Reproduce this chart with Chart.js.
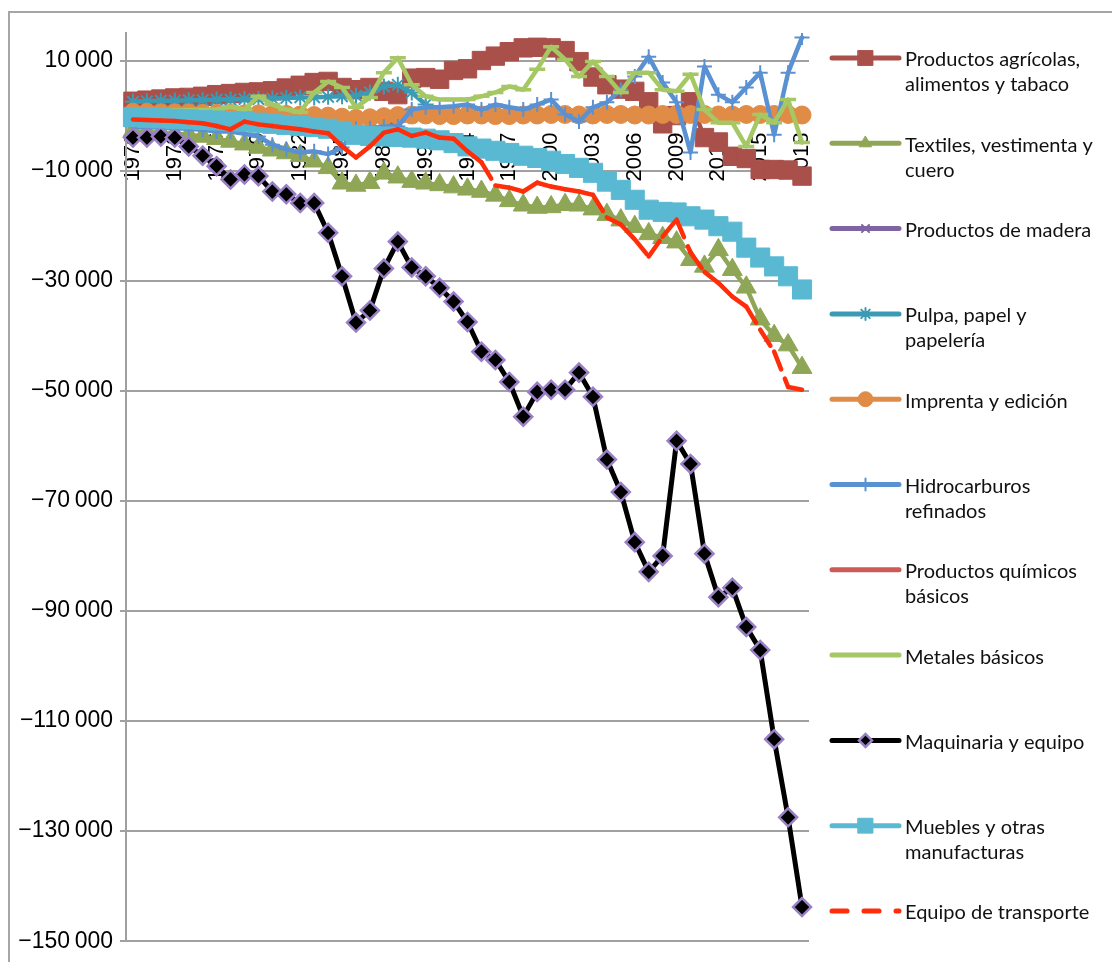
<!DOCTYPE html>
<html><head><meta charset="utf-8">
<script src="https://cdn.jsdelivr.net/npm/chart.js@4/dist/chart.umd.min.js"></script>
<style>html,body{margin:0;padding:0;background:#fff}#wrap{width:1112px;height:962px;position:relative}canvas{display:block}</style>
</head><body><div id="wrap"><canvas id="c" width="1112" height="962"></canvas></div>
<script>
const years = [1970,1971,1972,1973,1974,1975,1976,1977,1978,1979,1980,1981,1982,1983,1984,1985,1986,1987,1988,1989,1990,1991,1992,1993,1994,1995,1996,1997,1998,1999,2000,2001,2002,2003,2004,2005,2006,2007,2008,2009,2010,2011,2012,2013,2014,2015,2016,2017,2018];
const xLabelStep = 3;
const yTickValues = [10000,-10000,-30000,-50000,-70000,-90000,-110000,-130000,-150000];
const yTickLabels = ['10\u2009000','\u221210\u2009000','\u221230\u2009000','\u221250\u2009000','\u221270\u2009000','\u221290\u2009000','\u2212110\u2009000','\u2212130\u2009000','\u2212150\u2009000'];
const yMin = -150000, yMax = 15000;

const agricolas = [2600,2800,3000,3200,3300,3500,3800,4000,4200,4300,4500,5000,5500,6000,6200,5100,4700,5100,4400,3800,6800,6900,6600,8200,8500,10000,10800,11600,12300,12400,12300,11800,9800,7000,5600,4800,4400,2500,-1500,0,2500,-4000,-4800,-7400,-7800,-9800,-9800,-9900,-11000];
const textiles = [-2800,-3000,-3100,-3300,-3500,-3800,-4200,-4700,-5200,-5800,-6300,-6800,-7300,-8300,-9500,-12300,-12700,-12200,-10500,-11200,-12000,-12300,-12600,-13000,-13400,-13800,-14500,-15500,-16300,-16700,-16600,-16200,-16300,-17000,-18000,-19000,-20200,-21500,-22200,-23000,-26200,-27400,-24400,-28000,-31200,-37000,-40000,-41700,-45800];
const madera = [-800,-900,-1000,-1100,-1200,-1300,-1400,-1500,-1600,-1700,-1800,-1900,-2000,-2100,-2200,-2300,-2100,-2300,-2000,-1200,-600,-500,-500,-400,-400,-300,-300,-300,-200,-200,-200,-200,-100,-100,-100,0,0,0,0,0,0,0,0,0,0,0,0,0,0];
const pulpa = [2500,2600,2700,2700,2800,2800,2900,2900,3000,3000,3100,3200,3300,3300,3400,3500,3600,4200,5300,5600,4200,2000,500,400,300,300,200,300,300,200,300,300,200,300,300,200,300,300,200,300,300,200,300,300,200,300,300,200,300];
const imprenta = [600,600,500,500,500,400,400,400,300,300,200,200,100,0,-100,-300,-500,-400,-200,0,100,100,0,0,100,100,0,0,100,100,200,200,100,100,200,200,100,100,200,200,200,200,100,100,200,200,200,200,100];
const hidrocarburos = [-2000,-2100,-2200,-2300,-2400,-2600,-2900,-2900,-3300,-3800,-5300,-6100,-6700,-6500,-7000,-5800,-2400,-2300,-2000,-2000,1100,1500,1500,1700,2000,1100,2000,1500,1100,2000,2900,200,-1100,1500,2400,4700,7100,10700,6000,2400,-6700,8900,3800,2400,5100,7800,-3500,7800,14200];
const quimicos = [-400,-500,-600,-700,-800,-900,-1000,-1100,-1200,-1400,-1600,-1800,-2000,-2200,-2500,-2900,-3500,-3700,-3800,-3900,-4100,-4300,-4600,-5100,-5700,-6100,-6500,-6900,-7400,-7800,-8300,-8900,-9600,-10500,-12100,-13600,-15400,-17200,-17600,-17700,-18400,-19000,-20200,-21200,-24100,-25900,-27500,-29300,-31700];
const metales = [800,800,900,900,1000,1000,1100,1600,1100,3500,2000,1100,600,4200,6200,5100,1500,3300,7800,10500,5600,3500,2900,2900,2900,3500,4200,5300,4700,8400,12500,10200,7100,9800,7100,4200,7800,7800,4700,4400,7500,1100,-1300,-1300,-5600,200,-1300,2900,-4900];
const maquinaria = [-4000,-4000,-3800,-4000,-5600,-7300,-9200,-11600,-10700,-11000,-13800,-14300,-15900,-15900,-21300,-29200,-37600,-35400,-27800,-22900,-27600,-29200,-31300,-33800,-37500,-42900,-44400,-48400,-54700,-50200,-49800,-49800,-46700,-51100,-62500,-68400,-77500,-82900,-80000,-59100,-63300,-79600,-87500,-85800,-92900,-97100,-113300,-127500,-143800];
const muebles = [-300,-400,-500,-600,-700,-800,-900,-1000,-1100,-1300,-1500,-1700,-1900,-2100,-2400,-2800,-3500,-3700,-3800,-3900,-4000,-4200,-4500,-5000,-5600,-6000,-6400,-6800,-7300,-7700,-8200,-8800,-9500,-10400,-12000,-13500,-15300,-17100,-17500,-17600,-18300,-18900,-20100,-21100,-24000,-25800,-27400,-29200,-31600];
const transporte = [-700,-800,-900,-1000,-1200,-1400,-1900,-2500,-1100,-1600,-1900,-2200,-2500,-2900,-3200,-5600,-7600,-5600,-3100,-2500,-3700,-3100,-4000,-4200,-6500,-8500,-12700,-13100,-13800,-12200,-12900,-13400,-13800,-14400,-18500,-19800,-22500,-25600,-22000,-18900,-24900,-28400,-30400,-32900,-34700,-38900,-42900,-49300,-49800];

const seriesNames = [
  ['Productos agrícolas,','alimentos y tabaco'],
  ['Textiles, vestimenta y','cuero'],
  ['Productos de madera'],
  ['Pulpa, papel y','papelería'],
  ['Imprenta y edición'],
  ['Hidrocarburos','refinados'],
  ['Productos químicos','básicos'],
  ['Metales básicos'],
  ['Maquinaria y equipo'],
  ['Muebles y otras','manufacturas'],
  ['Equipo de transporte']
];
const seriesData = [agricolas, textiles, madera, pulpa, imprenta, hidrocarburos, quimicos, metales, maquinaria, muebles, transporte];

const styles = [
  {color:'#AA504B', ps:'rect', r:13, lr:10.5, bw:1},
  {color:'#8EA655', ps:'triangle', r:11.5, lr:7, bw:1},
  {color:'#8064A2', ps:'crossRot', r:5.5, lr:5, bw:2},
  {color:'#3C9BB4', ps:'star', r:8, lr:6, bw:2},
  {color:'#E08C46', ps:'circle', r:9, lr:7.5, bw:1},
  {color:'#5A91D2', ps:'cross', r:7.5, lr:6, bw:2},
  {color:'#CD5A55', ps:false, r:0, lr:0, bw:0},
  {color:'#A5C764', ps:'line', r:8, lr:0, bw:3.5},
  {color:'#000000', ps:'rectRot', r:9, lr:6.5, bw:2.5, fill:'#000000', border:'#9A80C6'},
  {color:'#5AB9D2', ps:'rect', r:13.5, lr:10.5, bw:1},
  {color:'#FF2D0A', ps:false, r:0, lr:0, bw:0, dash:[19,10]}
];

const datasets = seriesData.map((d, i) => {
  const s = styles[i];
  const o = {
    label: seriesNames[i].join(' '),
    data: d,
    borderColor: s.color,
    backgroundColor: s.fill || s.color,
    borderWidth: i === 8 ? 5 : 4.5,
    borderJoinStyle: 'round',
    borderCapStyle: 'round',
    tension: 0,
    order: seriesData.length - i,
    pointStyle: s.ps || 'circle',
    pointRadius: s.r,
    pointHoverRadius: s.r,
    pointBorderWidth: s.bw,
    pointBackgroundColor: s.fill || s.color,
    pointBorderColor: s.border || s.color
  };
  if (s.dash) {
    o.borderDash = s.dash;
    o.segment = { borderDash: c => (c.p0DataIndex % 2 ? [19, 10] : [19.001, 10]) };
  }
  return o;
});

const framePlugin = {
  id: 'frame',
  beforeDraw(chart) {
    const ctx = chart.ctx;
    ctx.save();
    ctx.fillStyle = '#ffffff';
    ctx.fillRect(0, 0, chart.width, chart.height);
    ctx.strokeStyle = '#A6A6A6';
    ctx.lineWidth = 2;
    ctx.strokeRect(9, 12, 1300, 1200);
    ctx.restore();
  }
};

const legendPlugin = {
  id: 'customLegend',
  afterDraw(chart) {
    const ctx = chart.ctx;
    ctx.save();
    seriesNames.forEach((lines, i) => {
      const s = styles[i];
      const y = 58 + i * 85.3;
      ctx.setLineDash(s.dash ? [15, 17] : []);
      ctx.lineCap = 'round';
      ctx.strokeStyle = s.color;
      ctx.lineWidth = 5;
      ctx.beginPath();
      ctx.moveTo(832, y);
      ctx.lineTo(899, y);
      ctx.stroke();
      ctx.setLineDash([]);
      if (s.ps && s.lr > 0) {
        ctx.fillStyle = s.fill || s.color;
        ctx.strokeStyle = s.border || s.color;
        ctx.lineWidth = s.bw;
        Chart.helpers.drawPoint(ctx, {pointStyle: s.ps, radius: s.lr, rotation: 0, borderWidth: s.bw}, 865.5, y);
      }
      ctx.fillStyle = '#111111';
      ctx.font = '20px Lato, "Open Sans", sans-serif';
      ctx.textBaseline = 'middle';
      ctx.textAlign = 'left';
      lines.forEach((t, k) => ctx.fillText(t, 905, y + 2 + k * 25));
    });
    ctx.restore();
  }
};

new Chart(document.getElementById('c'), {
  type: 'line',
  data: { labels: years, datasets },
  plugins: [framePlugin, legendPlugin],
  options: {
    responsive: false,
    animation: false,
    events: [],
    layout: { padding: { left: 0, top: 33, right: 303, bottom: 18 } },
    plugins: { legend: { display: false }, tooltip: { enabled: false } },
    scales: {
      x: {
        type: 'category',
        offset: true,
        position: { y: 0 },
        z: 1,
        grid: { display: false, drawTicks: false },
        border: { display: false },
        ticks: {
          autoSkip: false,
          minRotation: 90,
          maxRotation: 90,
          padding: 17,
          color: '#000000',
          font: { family: '"Liberation Sans", Arial, sans-serif', size: 22 },
          callback: function (value, index) { return index % xLabelStep === 0 ? String(years[index]) : ''; }
        }
      },
      y: {
        type: 'linear',
        position: 'left',
        min: yMin,
        max: yMax,
        afterBuildTicks: scale => { scale.ticks = yTickValues.map(v => ({ value: v })); },
        afterFit: scale => { scale.width = 126; },
        grid: { color: '#A0A0A0', lineWidth: 2, drawTicks: true, tickLength: 6 },
        border: { display: true, color: '#A0A0A0', width: 2 },
        ticks: {
          padding: 7,
          color: '#000000',
          font: { family: '"Liberation Sans", Arial, sans-serif', size: 23 },
          callback: value => { const k = yTickValues.indexOf(value); return k >= 0 ? yTickLabels[k] : ''; }
        }
      }
    }
  }
});
</script>
</body></html>
